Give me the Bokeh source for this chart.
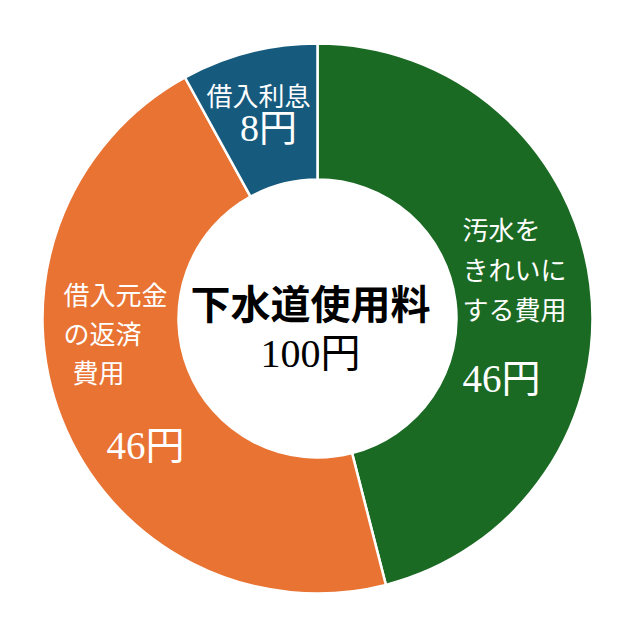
import math
from bokeh.plotting import figure
from bokeh.models import Range1d, ColumnDataSource
from bokeh.core.properties import value
from bokeh.embed import file_html
from bokeh.resources import INLINE

# ---- data ----
categories = ["汚水をきれいにする費用", "借入元金の返済費用", "借入利息"]
amounts = [46, 46, 8]
colors = ["#1b6a24", "#e87333", "#165b7e"]
center_title = "下水道使用料"
center_total = "100円"
value_labels = [f"{a}円" for a in amounts]
name_lines = [["汚水を", "きれいに", "する費用"], ["借入元金", "の返済", "費用"], ["借入利息"]]

# ---- layout ----
W, H = 618, 600
R_OUT, R_IN = 275, 139

p = figure(width=W, height=H, output_backend="svg", toolbar_location=None,
           x_range=Range1d(-317, 301), y_range=Range1d(-282, 318),
           min_border=0, outline_line_color=None)
p.axis.visible = False
p.grid.visible = False

total = sum(amounts)
starts, ends = [], []
acc = 0
for a in amounts:
    starts.append(math.pi / 2 - 2 * math.pi * acc / total)
    acc += a
    ends.append(math.pi / 2 - 2 * math.pi * acc / total)

src = ColumnDataSource(dict(start=starts, end=ends, color=colors,
                            x=[0] * len(amounts), y=[0] * len(amounts)))
p.annular_wedge(x="x", y="y", inner_radius=R_IN, outer_radius=R_OUT,
                start_angle="start", end_angle="end", direction="clock",
                fill_color="color", line_color="white", line_width=2.5, source=src)

jp = value("Noto Sans CJK JP")
num = value("Liberation Serif, Noto Sans CJK JP")

# name labels: (x, y of first line, line step, align, size)
name_pos = [(145, 90, 40, "left", "26px"),
            (-254, 25, 39, "left", "26px"),
            (-59, 224, 0, "center", "26px")]
for lines, (x0, y0, step, al, fs) in zip(name_lines, name_pos):
    for k, t in enumerate(lines):
        xx = x0 + (9 if (al == "left" and k == 2 and x0 < 0) else 0)
        p.text(x=[xx], y=[y0 - k * step], text=[t], text_color="white",
               text_font=jp, text_font_size=fs, text_align=al,
               text_baseline="middle")

value_pos = [(145, -60, "left", "39px"), (-172, -127, "center", "39px"), (-49, 191, "center", "38px")]
for t, (x0, y0, al, fs) in zip(value_labels, value_pos):
    p.text(x=[x0], y=[y0], text=[t], text_color="white", text_font=num,
           text_font_size=fs, text_align=al, text_baseline="middle")

p.text(x=[-7], y=[17], text=[center_title], text_color="black", text_font=jp,
       text_font_size="40px", text_font_style="bold", text_align="center", text_baseline="middle")
p.text(x=[-7], y=[-35], text=[center_total], text_color="black", text_font=num,
       text_font_size="40px", text_align="center", text_baseline="middle")

open("out.html", "w").write(file_html(p, INLINE))
